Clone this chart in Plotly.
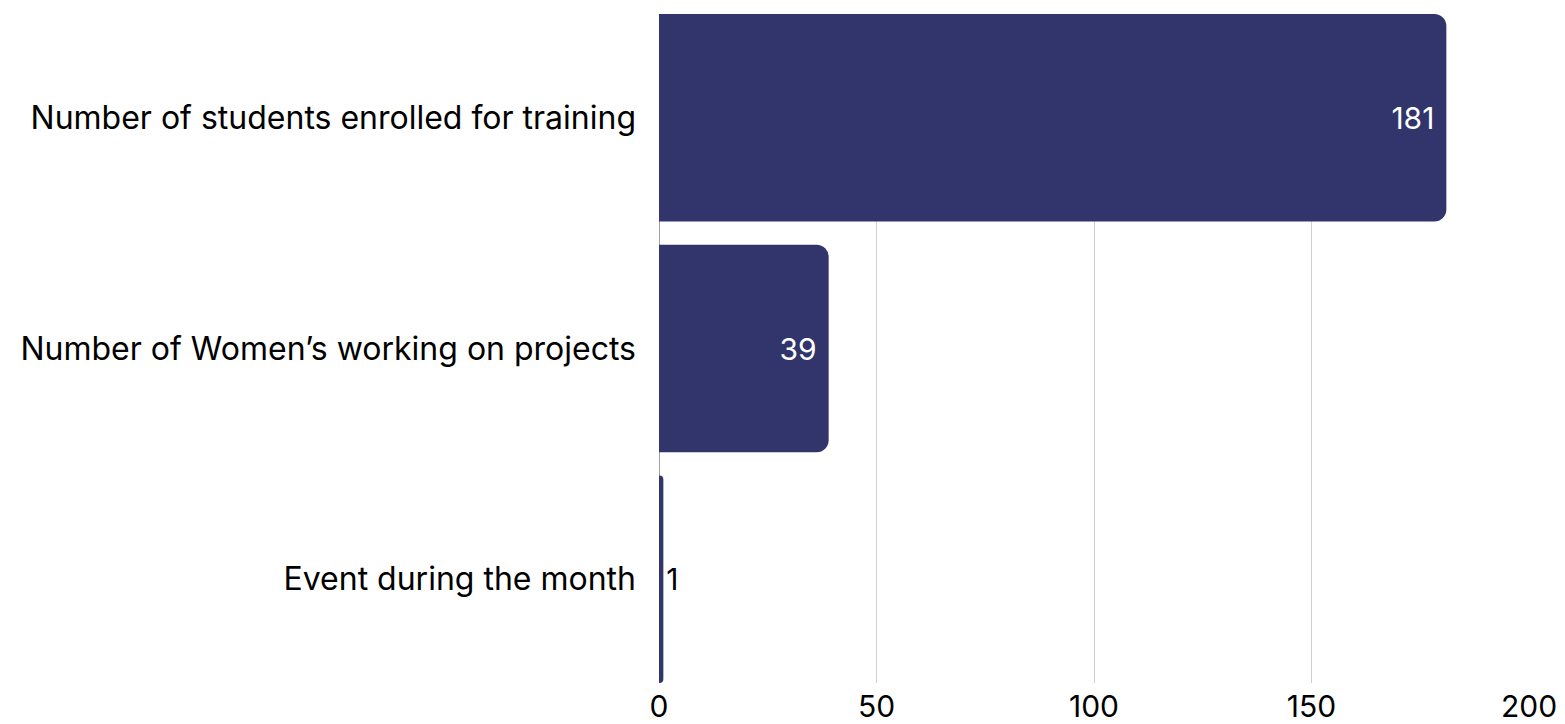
import plotly.graph_objects as go

categories = ["Number of students enrolled for training",
              "Number of Women’s working on projects",
              "Event during the month"]
values = [181, 39, 1]
x_ticks = [0, 50, 100, 150, 200]

BAR = "#31356B"
FONT = "Inter"
FS = 32

fig = go.Figure(go.Bar(
    x=values, y=categories, orientation="h",
    marker=dict(color=BAR, cornerradius=12, line=dict(width=0)),
    text=[str(v) for v in values],
    textposition=["inside", "inside", "outside"],
    insidetextanchor="end",
    textfont=dict(family=FONT, size=FS - 2),
    insidetextfont=dict(color="white", family=FONT, size=FS - 2),
    outsidetextfont=dict(color="black", family=FONT, size=FS - 2),
    cliponaxis=False,
))

fig.update_layout(
    width=1565, height=724,
    margin=dict(l=659, r=36, t=14, b=41, pad=0),
    paper_bgcolor="white", plot_bgcolor="white",
    showlegend=False,
    bargap=0.1,
    font=dict(family=FONT, size=FS, color="black"),
    uniformtext=dict(mode=False),
)
fig.update_xaxes(
    range=[0, 200], tickvals=x_ticks, showgrid=True, gridcolor="#d0d0d0", gridwidth=1,
    zeroline=True, zerolinecolor="#a0a0a0", zerolinewidth=1, automargin=False,
    ticks="", tickfont=dict(family=FONT, size=FS - 2, color="black"), ticklabelstandoff=3,
)
fig.update_yaxes(
    autorange=False, range=[2.45, -0.45], categoryorder="array", categoryarray=categories,
    ticks="", showgrid=False, tickfont=dict(family=FONT, size=FS, color="black"),
    ticklabelstandoff=22, automargin=False,
)

fig.write_html("out.html", config={"displayModeBar": False},
               post_script="document.body.style.margin='0';document.body.style.overflow='hidden';")
